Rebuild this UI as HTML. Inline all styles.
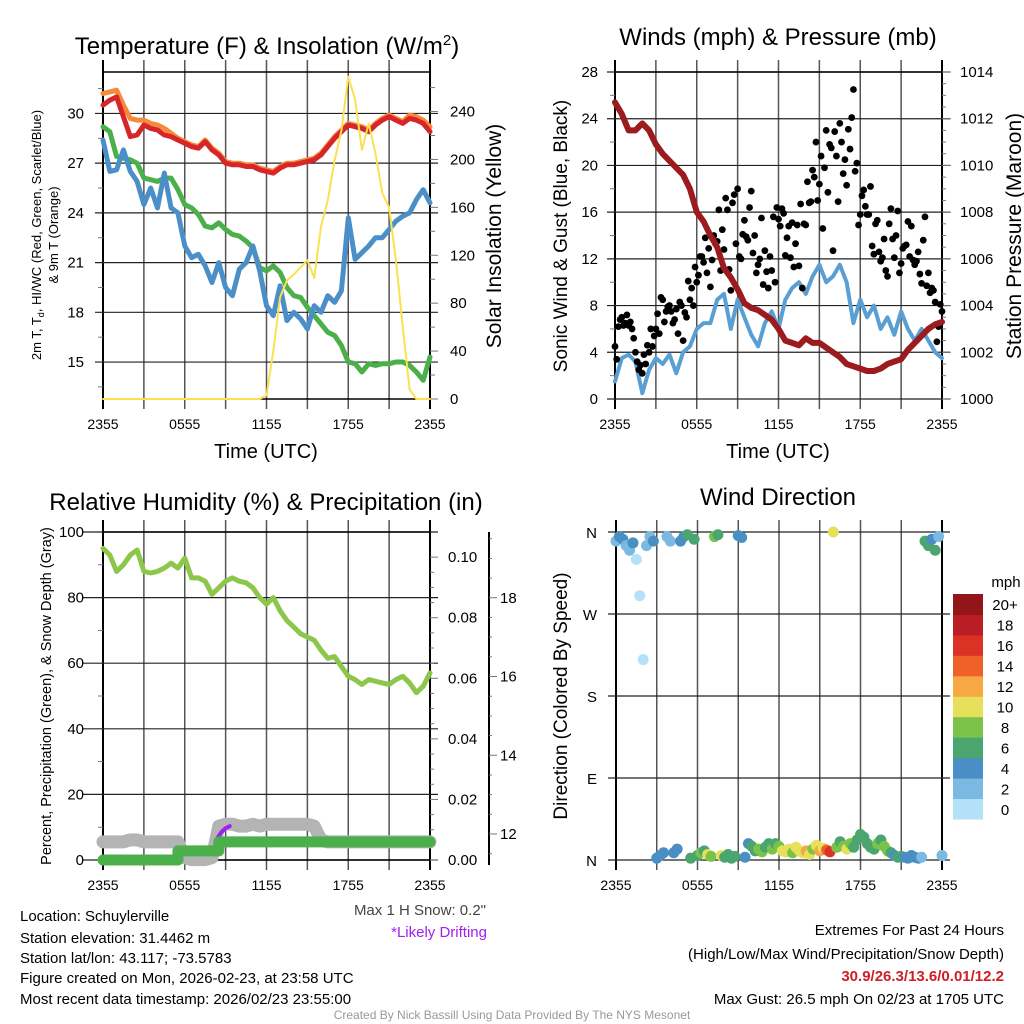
<!DOCTYPE html>
<html><head><meta charset="utf-8"><style>
html,body{margin:0;padding:0;background:#fff;}
svg{display:block;font-family:"Liberation Sans",Arial,sans-serif;}
</style></head><body>
<svg id="fig" width="1024" height="1024" viewBox="0 0 1024 1024" xmlns="http://www.w3.org/2000/svg">
<g id="layer"></g>
<text x="267" y="54" font-size="24" text-anchor="middle">Temperature (F) &amp; Insolation (W/m<tspan dy="-9" font-size="15">2</tspan><tspan dy="9">)</tspan></text>
<text x="778" y="45" font-size="24" text-anchor="middle">Winds (mph) &amp; Pressure (mb)</text>
<text x="266" y="510" font-size="24" text-anchor="middle">Relative Humidity (%) &amp; Precipitation (in)</text>
<text x="778" y="505" font-size="24" text-anchor="middle">Wind Direction</text>

<text transform="translate(41,235) rotate(-90)" font-size="13" text-anchor="middle">2m T, T<tspan font-size="9" dy="3">d</tspan><tspan dy="-3">, HI/WC (Red, Green, Scarlet/Blue)</tspan></text>
<text transform="translate(58,235) rotate(-90)" font-size="13" text-anchor="middle">&amp; 9m T (Orange)</text>
<text transform="translate(501,236) rotate(-90)" font-size="21" text-anchor="middle">Solar Insolation (Yellow)</text>
<text x="266" y="458" font-size="20" text-anchor="middle">Time (UTC)</text>
<text transform="translate(567,236) rotate(-90)" font-size="19" text-anchor="middle">Sonic Wind &amp; Gust (Blue, Black)</text>
<text transform="translate(1021,236) rotate(-90)" font-size="21" text-anchor="middle">Station Pressure (Maroon)</text>
<text x="778" y="458" font-size="20" text-anchor="middle">Time (UTC)</text>
<text transform="translate(51,696) rotate(-90)" font-size="14.5" text-anchor="middle">Percent, Precipitation (Green), &amp; Snow Depth (Gray)</text>
<text transform="translate(567,696) rotate(-90)" font-size="19" text-anchor="middle">Direction (Colored By Speed)</text>

<g font-size="15">
<text x="20" y="921">Location: Schuylerville</text>
<text x="20" y="943">Station elevation: 31.4462 m</text>
<text x="20" y="963">Station lat/lon: 43.117; -73.5783</text>
<text x="20" y="983">Figure created on Mon, 2026-02-23, at 23:58 UTC</text>
<text x="20" y="1004">Most recent data timestamp: 2026/02/23 23:55:00</text>
</g>
<text x="486" y="915" font-size="15" text-anchor="end" fill="#444">Max 1 H Snow: 0.2"</text>
<text x="487" y="937" font-size="15" text-anchor="end" fill="#a020f0">*Likely Drifting</text>
<g font-size="15" text-anchor="end">
<text x="1004" y="935">Extremes For Past 24 Hours</text>
<text x="1004" y="959">(High/Low/Max Wind/Precipitation/Snow Depth)</text>
<text x="1004" y="981" fill="#cc2026" font-weight="bold">30.9/26.3/13.6/0.01/12.2</text>
<text x="1004" y="1004">Max Gust: 26.5 mph On 02/23 at 1705 UTC</text>
</g>
<text x="512" y="1019" font-size="12" text-anchor="middle" fill="#999">Created By Nick Bassill Using Data Provided By The NYS Mesonet</text>
</svg>
<script>
// ---------- data (half-hourly unless noted) ----------
const xTickLabels = ["2355","0555","1155","1755","2355"];
const tempRed = [30.5,30.8,31.0,29.8,28.6,28.7,29.3,29.1,29.0,28.7,28.6,28.4,28.2,28.0,27.9,28.3,27.8,27.5,27.0,26.9,26.9,26.8,26.8,26.6,26.5,26.4,26.7,26.9,26.9,27.0,27.1,27.2,27.5,28.0,28.5,28.9,29.3,29.2,29.1,28.9,29.3,29.6,29.8,29.6,29.4,29.7,29.6,29.4,28.9];
const tempOrange = [31.2,31.3,31.4,30.5,29.7,29.6,29.6,29.4,29.3,29.1,28.8,28.5,28.3,28.1,28.0,28.4,27.9,27.6,27.1,27.0,27.0,26.9,26.9,26.7,26.6,26.5,26.8,27.0,27.0,27.1,27.2,27.3,27.6,28.1,28.6,29.0,29.4,29.3,29.2,29.0,29.4,29.7,29.9,29.7,29.5,29.9,29.8,29.6,29.2];
const dewGreen = [29.2,28.9,27.4,27.3,27.2,27.0,26.1,26.0,25.9,26.1,26.1,25.4,24.5,24.3,23.9,23.2,23.1,23.4,23.0,22.7,22.6,22.3,21.9,20.7,20.5,20.8,20.4,19.5,19.0,18.9,18.3,17.8,17.3,16.8,16.6,16.0,15.0,14.9,14.4,14.9,14.8,14.9,14.9,15.0,15.0,14.8,14.4,13.9,15.3];
const chillBlue = [28.4,26.5,26.6,27.8,26.5,25.9,24.5,25.5,24.3,26.4,24.3,24.0,22.0,21.3,21.5,20.8,19.8,21.0,19.5,19.0,20.6,21.0,22.0,20.5,18.4,17.8,19.6,17.5,18.0,17.6,17.0,18.4,18.0,19.0,18.6,19.3,23.7,21.2,21.6,22.0,22.5,22.5,23.0,23.5,23.8,24.0,24.8,25.4,24.6];
const solarYellow = [0,0,0,0,0,0,0,0,0,0,0,0,0,0,0,0,0,0,0,0,0,0,0,0,3,40,85,99,104,110,116,101,144,166,199,224,269,250,208,230,205,172,160,116,60,8,0,0,0];
const rhValues = [95,93,88,90,93,94.5,88,87.5,88,89,90.5,89,92,86,86,85,81,83,85,86,85,84.5,83,80,78,80,76,73,71,69,68,67,64,61.5,62,59,56,55,53.5,55,54.5,54,53.5,55,56,54,51,53,57];
const precipValues = [0,0,0,0,0,0,0,0,0,0,0,0.003,0.003,0.003,0.003,0.003,0.003,0.006,0.006,0.006,0.006,0.006,0.006,0.006,0.006,0.006,0.006,0.006,0.006,0.006,0.006,0.006,0.006,0.006,0.006,0.006,0.006,0.006,0.006,0.006,0.006,0.006,0.006,0.006,0.006,0.006,0.006,0.006,0.006];
const snowDepth = [11.8,11.8,11.8,11.8,11.85,11.85,11.8,11.8,11.8,11.8,11.8,11.8,11.4,11.35,11.35,11.35,11.4,12.2,12.25,12.25,12.2,12.2,12.25,12.2,12.25,12.25,12.25,12.25,12.25,12.25,12.25,12.2,11.85,11.8,11.8,11.8,11.8,11.8,11.8,11.8,11.8,11.8,11.8,11.8,11.8,11.8,11.8,11.8,11.8];
const driftHours = [8.4,8.7,9.0,9.3];
const driftDepth = [11.9,12.05,12.15,12.2];
const pressureValues = [1012.7,1012.2,1011.5,1011.5,1011.8,1011.5,1010.9,1010.5,1010.2,1009.9,1009.6,1009.0,1008.0,1007.6,1007.0,1006.5,1005.6,1005.2,1004.7,1004.1,1003.9,1003.8,1003.6,1003.4,1003.0,1002.5,1002.4,1002.3,1002.6,1002.4,1002.4,1002.2,1002.0,1001.8,1001.5,1001.4,1001.3,1001.2,1001.2,1001.3,1001.5,1001.6,1001.7,1002.1,1002.4,1002.7,1003.0,1003.2,1003.3];
const windBlue = [1.5,3.5,3.8,3.2,0.5,2.5,3.5,3.0,3.8,2.2,4.0,4.5,6.0,6.5,6.5,8.5,9.0,6.0,8.5,7.0,5.5,4.5,6.5,7.5,6.0,8.5,9.5,10.0,9.0,10.5,11.5,10.0,10.5,11.5,10.0,6.5,8.5,7.0,8.0,6.0,7.0,5.5,7.5,6.0,5.0,6.0,5.0,4.0,3.5];
// gusts every 15 min
const gustValues = [4.5,6.2,7.0,6.5,6.3,6.0,4.0,2.5,2.2,
 3.0,4.0,4.5,6.0,5.6,8.5,7.5,8.0,
 6.5,7.7,8.3,5.0,7.0,8.5,8.0,10.0,
 12.2,11.7,10.8,9.6,14.0,13.5,11.0,12.8,
 16.2,9.3,17.5,18.0,12.0,15.3,13.6,17.8,
 14.0,11.5,15.5,12.7,9.5,11.0,10.0,15.4,
 16.3,12.3,14.8,15.1,13.3,11.4,9.5,14.9,
 16.8,19.6,22.0,18.4,14.6,23.0,21.8,12.7,
 20.8,23.6,19.3,18.3,21.4,26.5,20.2,15.8,
 17.9,15.8,18.2,12.4,15.3,11.8,13.7,10.5,
 16.3,12.1,16.1,11.6,13.1,15.2,14.8,11.5,
 12.6,9.9,15.6,10.8,9.5,8.3,6.2,7.5];
// extra gusts, offset by 7.5 min
const gustValuesB = [3.4,6.8,6.3,7.2,6.6,5.2,3.2,2.9,
 3.8,4.6,6.0,5.4,7.3,8.7,6.6,7.9,
 7.5,6.8,5.6,8.0,7.4,10.1,9.5,11.3,
 10.6,12.2,13.8,12.9,11.9,13.3,16.2,14.5,
 17.2,11.1,16.8,13.3,12.2,14.1,13.9,16.4,
 12.5,10.8,12.0,9.8,10.9,12.2,15.6,16.4,
 14.8,15.9,13.8,12.1,11.3,14.9,16.7,15.0,
 18.6,16.9,19.0,17.0,20.8,19.8,17.7,21.5,
 22.9,16.9,22.0,20.5,23.1,24.1,19.5,14.9,
 17.4,16.5,15.8,13.1,15.0,12.6,12.1,11.0,
 15.0,13.7,14.0,10.8,12.9,13.2,12.2,11.9,
 11.8,10.7,13.6,9.7,9.1,9.3,4.9,8.1];
// wind direction every 15 min
const dirValues = [350,355,352,345,340,348,330,290,220,345,355,350,
 2,5,8,355,350,8,12,350,355,357,2,352,
 5,8,10,6,4,355,357,5,3,6,2,4,
 356,354,3,18,15,10,12,9,14,18,12,18,
 15,10,9,12,8,14,10,8,10,6,12,16,
 10,13,11,9,360,14,20,15,12,18,14,22,
 28,25,18,14,12,18,22,15,10,8,5,3,
 4,3,2,5,3,2,3,350,345,352,340,355,5];
const dirSpeeds = [2,4,4,2,2,4,0,0,0,2,2,4,
 4,4,4,2,2,4,4,4,4,6,6,6,
 6,8,6,10,8,8,6,10,6,6,6,6,
 4,4,4,4,6,6,8,8,6,6,8,6,
 8,10,10,10,8,10,10,10,12,10,8,10,
 12,10,14,16,10,8,6,8,10,8,6,6,
 6,6,6,6,6,8,6,8,8,6,4,6,
 6,4,4,4,4,4,2,6,6,4,6,2,2];
const speedLabels = ["0","2","4","6","8","10","12","14","16","18","20+"];
const speedColors = ["#b3e2f8","#7bb8e2","#4a8fc4","#4aa56e","#7bc24a","#e6e05a","#f6a843","#ef6128","#db3226","#bb1d26","#911519"];

// ---------- helpers ----------
const NS="http://www.w3.org/2000/svg";
const layer=document.getElementById('layer');
function mk(tag,attrs,parent){const e=document.createElementNS(NS,tag);for(const k in attrs)e.setAttribute(k,attrs[k]);(parent||layer).appendChild(e);return e;}
function panel(x0,x1,y0,y1){return {x0,x1,y0,y1,xs:t=>x0+t/24*(x1-x0)};}
function yScale(p,lo,hi){return v=>p.y1-(v-lo)/(hi-lo)*(p.y1-p.y0);}
function line(p,vals,ys,step,color,w,name){
  let d='';vals.forEach((v,i)=>{d+=(i?'L':'M')+p.xs(i*step).toFixed(1)+','+ys(v).toFixed(1);});
  const e=mk('path',{d,fill:'none',stroke:color,'stroke-width':w,'stroke-linejoin':'round','stroke-linecap':'round'});
  
  
  return e;
}
function frame(p,name){
  const g=mk('g',{});
  
  
  for(let k=0;k<=8;k++){const x=p.x0+k*(p.x1-p.x0)/8;
    mk('line',{x1:x,x2:x,y1:p.y0-12,y2:p.y1+10,stroke:(k==0||k==8)?'#000':'#555','stroke-width':(k==0||k==8)?2:1.5},g);}
  xTickLabels.forEach((s,i)=>{const t=mk('text',{x:p.x0+i*(p.x1-p.x0)/4,y:p.y1+30,'font-size':14,'text-anchor':'middle'},g);t.textContent=s;
    
    });
  return g;
}
function hgrid(g,p,y,ext){mk('line',{x1:p.x0-(ext||8),x2:p.x1+8,y1:y,y2:y,stroke:'#222','stroke-width':1.2},g);}
function lbl(g,x,y,s,anchor,size){const t=mk('text',{x,y,'font-size':size||15,'text-anchor':anchor||'end'},g);t.textContent=s;
  
  return t;}
function minor(g,x,y,len){mk('line',{x1:x,x2:x+len,y1:y,y2:y,stroke:'#777','stroke-width':1},g);}

// ---------- Panel 1: temperature ----------
const P1=panel(103,430,72,399);
const yT=yScale(P1,12.77,32.5), yS=yScale(P1,0,273);
const g1=frame(P1,'temperature-panel');
for(let v=15;v<=30;v+=3){hgrid(g1,P1,yT(v));lbl(g1,84,yT(v)+5,String(v));}
for(let v=13.5;v<=32;v+=1.5){if(v%3)minor(g1,P1.x0-5,yT(v),5);}
for(let v=0;v<=260;v+=20){minor(g1,P1.x1,yS(v),v%40?5:8);if(v%40==0)lbl(g1,450,yS(v)+5,String(v),'start');}
mk('line',{x1:P1.x0,x2:P1.x1,y1:P1.y0,y2:P1.y0,stroke:'#000','stroke-width':1.5},g1);
mk('line',{x1:P1.x0,x2:P1.x1,y1:P1.y1,y2:P1.y1,stroke:'#000','stroke-width':1.5},g1);
line(P1,dewGreen,yT,0.5,'#4bb04a',5,'dewpoint-line');
line(P1,chillBlue,yT,0.5,'#4a8fc8',5,'windchill-line');
line(P1,tempOrange,yT,0.5,'#f58a3a',5,'temp-9m-line');
line(P1,tempRed,yT,0.5,'#d7262a',5,'temp-2m-line');
line(P1,solarYellow,yS,0.5,'#fbe150',2,'solar-line');

// ---------- Panel 2: winds ----------
const P2=panel(615,942,72,399);
const yW=yScale(P2,0,28), yP=yScale(P2,1000,1014);
const g2=frame(P2,'winds-panel');
for(let v=0;v<=28;v+=4){hgrid(g2,P2,yW(v));lbl(g2,598,yW(v)+5,String(v));}
for(let v=2;v<28;v+=4)minor(g2,P2.x0-5,yW(v),5);
for(let v=1000;v<=1014;v+=0.5){minor(g2,P2.x1,yP(v),v%2?4:9);if(v%2==0)lbl(g2,960,yP(v)+5,String(v),'start');}
mk('line',{x1:P2.x0,x2:P2.x1,y1:P2.y0,y2:P2.y0,stroke:'#000','stroke-width':1.5},g2);
line(P2,windBlue,yW,0.5,'#5a9fd4',4,'sonic-wind-line');
gustValues.forEach((v,i)=>{const c=mk('circle',{cx:P2.xs(i*0.25),cy:yW(v),r:3.4,fill:'#000'});
  
  });
gustValuesB.forEach((v,i)=>{const c=mk('circle',{cx:P2.xs(0.125+i*0.25),cy:yW(v),r:3.4,fill:'#000'});
  
  });
line(P2,pressureValues,yP,0.5,'#9b1b1e',6,'pressure-line');

// ---------- Panel 3: humidity ----------
const P3=panel(103,430,532,860);
const yR=yScale(P3,0,100), yPr=yScale(P3,0,0.1083), ySn=yScale(P3,11.34,19.67);
const g3=frame(P3,'humidity-panel');
for(let v=0;v<=100;v+=20){hgrid(g3,P3,yR(v),20);lbl(g3,84,yR(v)+5,String(v));}
for(let v=10;v<100;v+=20)minor(g3,P3.x0-5,yR(v),5);
for(let v=0;v<=0.105;v+=0.005){const r=Math.round(v*1000);minor(g3,P3.x1,yPr(v),r%20?4:8);if(r%20==0)lbl(g3,448,yPr(v)+5,(r/1000).toFixed(2),'start');}
mk('line',{x1:489,x2:489,y1:P3.y0,y2:P3.y1+5,stroke:'#000','stroke-width':2},g3);
for(let v=11.5;v<=19.5;v+=0.5){minor(g3,489,ySn(v),v%2==0?8:3);if(v%2==0)lbl(g3,500,ySn(v)+5,String(v),'start');}
mk('line',{x1:P3.x0,x2:P3.x1,y1:P3.y0,y2:P3.y0,stroke:'#000','stroke-width':1.5},g3);
line(P3,snowDepth,ySn,0.5,'#b4b4b4',13,'snow-depth-line');
{let d='';driftHours.forEach((t,i)=>{d+=(i?'L':'M')+P3.xs(t)+','+ySn(driftDepth[i]);});
 const e=mk('path',{d,fill:'none',stroke:'#a020f0','stroke-width':4,'stroke-linecap':'round'});
 
 }
line(P3,rhValues,yR,0.5,'#8cc64a',5,'humidity-line');
{let d='';precipValues.forEach((v,i)=>{const x=P3.xs(i*0.5),y=yPr(v);d+=(i?'H'+x+'V'+y:'M'+x+','+y);});
 const e=mk('path',{d,fill:'none',stroke:'#4bb04a','stroke-width':11,'stroke-linecap':'round','stroke-linejoin':'round'});
 
 }
mk('line',{x1:P3.x0,x2:P3.x1,y1:P3.y1,y2:P3.y1,stroke:'#000','stroke-width':1.5},g3);

// ---------- Panel 4: wind direction ----------
const P4=panel(616,942,532,860);
const yD=yScale(P4,0,360);
const g4=frame(P4,'direction-panel');
["N","E","S","W","N"].forEach((s,i)=>{hgrid(g4,P4,yD(i*90));lbl(g4,597,yD(i*90)+6,s,'end',15);});
dirValues.forEach((v,i)=>{const ci=Math.min(10,Math.round(dirSpeeds[i]/2));
  const c=mk('circle',{cx:P4.xs(i*0.25),cy:yD(v),r:5.5,fill:speedColors[ci]});
  
  });
// colorbar
const cb=mk('g',{});


const cbTop=594,cbH=225/11;
speedColors.forEach((c,i)=>{const y=cbTop+(10-i)*cbH;
  mk('rect',{x:953,y:y,width:30,height:cbH+0.5,fill:c},cb);
  const t=mk('text',{x:1005,y:y+cbH/2+6,'font-size':15,'text-anchor':'middle'},cb);t.textContent=speedLabels[i];});
{const t=mk('text',{x:1006,y:587,'font-size':15,'text-anchor':'middle'},cb);t.textContent='mph';}
</script>
</body></html>
